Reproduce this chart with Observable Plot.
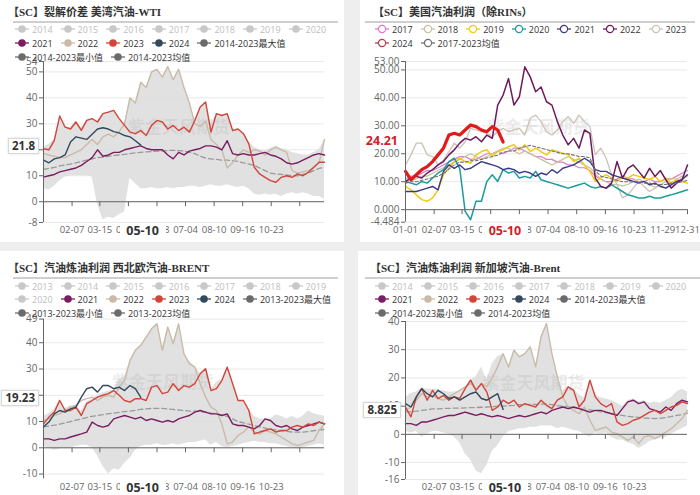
<!DOCTYPE html>
<html><head><meta charset="utf-8">
<script src="https://cdn.jsdelivr.net/npm/d3@7"></script>
<script src="https://cdn.jsdelivr.net/npm/@observablehq/plot@0.6"></script>
<style>
body{margin:0;background:#fff;}
#root{position:relative;width:700px;height:495px;background:#eeeeee;overflow:hidden;font-family:"Open Sans","Noto Sans CJK SC",sans-serif;}
.panel{position:absolute;background:#fff;}
.title{position:absolute;font-family:"Liberation Serif","Noto Sans CJK SC",serif;font-weight:bold;font-size:11px;color:#333;white-space:nowrap;line-height:14px;}
.sep{position:absolute;height:1.5px;background:#cfcfcf;}
.leg{position:absolute;display:flex;align-items:center;font-size:9px;white-space:nowrap;height:12px;}
.item{display:flex;align-items:center;margin-right:8px;min-width:37px;}
.item svg{margin-right:3px;flex:none;}
.plot{position:absolute;}
.vbox{position:absolute;font-weight:bold;font-size:11.5px;color:#333;background:#fff;padding:0 3px;line-height:14px;white-space:nowrap;}
.dbox{position:absolute;font-weight:bold;font-size:12.5px;color:#333;background:#fff;padding:0 5px;line-height:14px;white-space:nowrap;}
</style></head>
<body><div id="root"></div>
<script>
// ---------- data (weekly readings, week 0 = 01-01) ----------
const p1_2021=[9.5,10,10.5,11.5,12,12.5,13,14,15.5,17,20,17.5,18,19,19,20,20.5,21,21.5,20.5,20,20,20,18,16.5,19,18,19.5,20,20.5,21.5,21.5,21,20,23.5,18.5,18,18.5,18,18,18.5,19,18,17.5,16.5,15,14.5,15,16,17,18,18.5,18];
const p1_2022=[18.5,18,17.5,17,17,18,19,20,22,24,22,25,26,25,27,30,40,38,46,44,50,51,48,52,47,51,44,38,30,29,31,24,22,20,13,15,18,20,19,20,19.5,18,20,21,20,19,12,11,11.5,12,13,15,24];
const p1_2023=[20.4,20,23.6,33,28.7,28,30.7,27.5,31.3,32,30.7,33.9,34.5,35.2,32,29.4,26.8,26.2,27.4,25.5,29.4,31.3,30.7,28,29.4,27.4,28.7,26.8,31.3,36.5,38.4,26.8,33.9,33.2,33.9,27.4,28,26.2,22.3,13.3,10.7,9.4,8.1,7.5,9.4,10,9.4,10.7,10,11.3,13.3,15.2,15.2];
const p1_2024=[16,15,16.5,17,18,23,25,24.5,24,26,28,28.5,28,27,26.5,25.5,25,23.5,21.8];
const p1_max=[21,22,24,33,29,28.5,31,28.5,31.5,32,31,34,34.5,35.2,32,30,40,38,46,44,50,51,48,52,47,51,44,38,31.5,36.5,38.4,30,34,33.2,34,28,28,26.5,23,21,20,19.5,20.5,21.5,20.5,20,19,18.5,18,18,19,20,24];
const p1_min=[5,4.5,6,8,9.5,10,10,10,10,9.5,-1,-7,-6,-6.5,-5,-4,9,7,5,5,5.5,5,5,5.5,5,5.5,5.5,6,6,5.5,6,6.5,6,6,6.5,6,5.5,6,5,3,2.5,3,2.5,3,2,3,3.5,3,3.5,3,2,2,1];
const p1_avg=[12.5,12.8,13.2,13.8,14.2,14.5,15,15.5,16,16.5,17,17.2,17.5,17.8,18,18.2,18.5,18.8,19,19.2,19.3,19.5,19.5,19.7,19.8,19.7,19.5,19,18.5,17.5,16.8,16.5,16.3,16,16,15.8,15.5,15,14.5,14,13,12,11,10.7,10.5,10.3,10,10,10.5,11,12,12.8,13.3];

const p2_2017=[11,12,12,13,14,14,15,16,17,18,19,19,18,18,19,20,20,21,20,21,22,22,21,20,19,19,18,18,17,17,16,16,15,15,14,12,11,10,10,11,12,11,11,10,10,11,10,10,11,11,12,13,14];
const p2_2018=[10,10.5,11,12,12,13,14,15,16,17,18,19,20,19,18,19,20,21,22,22,21,20,21,20,19,18,17,16,17,18,19,18,17,16,15,13,11,10,9,9,8.5,9,10,11,10,9,8,9,10,11,11,12,12];
const p2_2019=[8.3,7.1,5.3,3.6,3,4.2,7.1,12.5,14.8,17.2,18.4,17.2,16.6,19.6,20.8,21.4,19,20.8,21.4,22.6,23.2,21.4,23.2,20.8,22,20.8,19.6,21.4,20.8,20.2,19.6,17.2,18.4,16,13.7,10.1,11.3,12.5,11.3,10.1,11.9,11.3,12.5,11.9,11.3,10.7,11.9,10.1,11.3,9.5,10.7,10.1,9.5];
const p2_2020=[10.1,9.5,8.9,10.1,9.5,11.3,13.1,14.3,17.2,18.4,14.8,-0.6,-3.6,3,3,10.1,12.5,10.1,14.3,13.1,13.7,11.3,11.9,11.3,13.7,10.7,10.1,9.5,8.9,8.3,7.7,8.3,8.9,9.5,8.3,7.7,8.3,7.7,8.9,7.7,6.5,5.3,4.8,4.2,4.2,4.8,4.2,4.2,4.8,5.3,5.9,6.5,7.1];
const p2_2021=[6.5,6.5,6.5,7.1,7.7,8.3,7.1,13.7,16,14.8,16,14.3,14.8,16,17.2,16.6,16,15.4,14.3,14.8,14.3,13.1,13.7,13.1,11.9,13.1,12.5,14.3,13.1,14.8,15.4,16,17.2,18.4,17.2,14.3,13.7,13.7,12.5,11.9,11.3,10.7,10.1,9.5,10.1,8.9,9.5,8.3,7.7,8.9,10.1,10.7,12.5];
const p2_2022=[10.1,11.3,11.9,11.3,13.1,14.3,16,17.2,19.6,21.4,23.8,25.5,24.9,26.1,24.3,26.7,25.5,37.4,41,46.9,37.4,40.4,51.1,47.5,42.2,43.9,38.6,37.4,31.5,26.7,23.2,25.5,22,28.5,27.3,11.3,8.3,7.7,9.5,17.2,11.3,14.8,16,13.7,11.3,14.8,11.9,14,10.7,7.7,9.5,10.7,16];
const p2_2023=[16,19.6,23.8,23.8,19.6,19,16,17.8,20.8,23.8,22,24.3,29.1,28.5,27.9,27.3,26.1,27.9,29.1,27.9,28.5,29.1,26.7,32.7,33.8,31.5,27.9,26.7,28.5,31.5,33.3,30.9,33.8,31.5,29.7,19.6,22,18.4,12.5,8.9,4.2,5.3,7.7,10.1,8.3,6.5,7.7,8.9,7.7,9.5,10.1,11.3,12.5];
const p2_2024=[13.7,10.7,12.5,14.3,15.4,17.2,19.6,22,26.7,27.3,26.7,28.5,30.3,29.7,28.5,27.9,29.7,28.5,24.21];
const p2_avg=[9.5,10,10,10.5,11,11.5,12,13,14.5,16,17,17,17.5,17.5,18,18.5,19,19.5,20.5,21,21,22,22.5,23,22.5,22,21.5,21,20.5,20,20,19.5,19,19,18.5,14,12,11.5,11,10.5,10,10,10,10,9.5,9.5,9,9,9,9.5,9.5,10,10.5];

const p3_2021=[3.4,3.4,2.8,3.4,3.4,4.1,4.7,5.3,6,9.8,8.5,7.9,8.5,11,11.7,12.3,11.7,11,11.7,10.4,11,10.4,9.8,10.4,9.8,11,11.7,12.3,13.6,14.2,13.6,12.9,12.9,12.3,12.9,9.1,8.5,8.5,7.9,7.2,8.5,11,10.4,8.5,7.9,8.5,7.2,6.6,7.9,8.5,9.1,9.8,9.1];
const p3_2022=[10.4,11,12.3,12.9,14.2,15.5,16.1,18,18.7,19.3,18,19.3,20,19.3,23.1,25.6,33.2,37.1,39,42.1,45.3,47.2,37.1,46,39.6,47.2,35.8,32,30.7,24.4,19.3,15.5,14.2,9.1,1.5,2.2,4.7,6,7.9,6,5.3,6.6,6,5.3,4.1,2.8,1.5,0.9,1.5,2.2,2.8,6.6,9.1];
const p3_2023=[9.1,11.7,13.6,18,14.2,14.2,15.5,12.3,16.8,18,19.3,20,20.6,21.8,20,18,17.4,18.7,18.7,18,23.1,23.7,20.6,21.2,24.4,21.8,23.7,23.1,24.4,28.2,30.1,21.8,22.5,25.6,30.7,24.4,18,18,14.2,5.3,6,6.6,7.2,6,6.6,6.6,7.9,8.5,7.9,9.1,8.5,9.8,9.1];
const p3_2024=[7.9,9.8,12.9,14.2,13.6,14.8,15.5,19.3,22.5,23.1,21.2,23.7,23.7,22.5,23.1,21.8,23.7,22.5,19.23];
const p3_max=[12,13,14.5,18.5,15,16,16,14,17.5,18.5,20,21,21.5,22,26,27,33.2,37.1,39,42.1,45.3,47.2,38,46,40,47.2,36,33,31,28.5,30.5,22,25,26,31,24.5,18,18,15,12,11,11,11,12.5,12,11,12,11,12,14,13,12.5,12];
const p3_min=[0.5,0,-1,-0.5,0,0,0.5,1,1,0,-3,-7,-10,-8,-8.5,-6,-4,-1,0.5,1,1,1.5,1,1,1.5,1,1.5,2,2,2.5,3,1,2,0.5,0,0.5,1,1.5,2,2.5,2,2,1.5,1.5,1,0.5,0,-0.5,0,0.5,1,1.5,1];
const p3_avg=[8,8.3,8.6,9,9.5,10,10.5,11,11.5,12,12.3,12.6,13,13.2,13.5,13.8,14,14.3,14.6,14.8,15,15,15,14.8,14.6,14.4,14.2,14,14,13.8,13.5,13.2,13,12.5,12,11,10,9.5,9,8.5,8,7.5,7,6.8,6.5,6.3,6,6,6,6.2,6.5,6.8,7];

const p4_2021=[3.8,3.8,3.2,4.4,4.4,5,5.6,6.2,6.7,6.7,7.3,7.9,7.3,6.7,7.3,6.7,6.2,6.7,6.2,5.6,6.2,6.7,6.2,6.7,7.3,7.9,7.3,8.5,9.1,9.7,9.1,9.7,9.1,8.5,7.9,8.5,8.5,7.9,7.3,6.7,9.1,11.5,12.1,10.9,11.5,9.1,8.5,7.9,9.7,8.5,10.9,12.1,11.5];
const p4_2022=[8.5,9.7,12.1,14.4,13.3,13.8,12.7,12.1,13.3,14.4,15.6,16.8,18,16,18,17,20,24,28.6,23.9,29.8,27.5,28.6,31,23.9,34.6,39.3,28.6,20.4,13.3,9.7,8.5,7.3,9.7,5,1.4,2,2.6,0.8,0.2,-0.9,-2.1,-0.9,-3.3,-0.9,-0.4,-1.5,-0.4,0.8,2,3.8,5.6,8.5];
const p4_2023=[9.7,6.2,13.3,16.2,12.1,15.6,12.7,13.8,12.1,13.3,12.7,16.2,19.2,15.6,18,15,8.5,9.7,12.1,10.9,12.1,9.7,10.9,10.3,9.7,12.1,10.3,9.1,12.1,13.3,16.8,15.6,9.7,12.1,19.2,13.3,10.9,9.7,10.9,4.4,3.2,3.8,5,5.6,6.7,7.9,8.5,7.3,8.5,9.7,10.3,11.5,10.9];
const p4_2024=[10.9,9.7,13.3,16.2,14.4,13.3,15.6,14.4,12.7,13.3,12.1,13.3,14.4,15,12.7,12.1,13.3,14.4,8.825];
const p4_max=[13,14.5,15,16.5,16,16,16,15.5,15,15,15.5,16.5,19.2,20.4,23.9,19.2,25.1,27.5,28.6,24,29.8,27.5,28.6,31,24,34.6,39.3,28.6,20.4,15,17,16,14,13,19.2,14,13,12.5,12,11,10,12,12.5,11.5,12,11,11.5,11,12,13,15,16,15];
const p4_min=[1,0.5,1,-1,0,1,1,0.5,0,-1,-3,-7,-9,-13,-14,-11,-6,-4,-1,1,1.5,2,2,2.5,2.5,3,3,3,2,2.5,2,1.5,1,0,-1,0.5,0,0.5,-1,-2,-2,-3,-3.5,-5,-4,-2.5,-2,-1.5,-1,0,1,2,3];
const p4_avg=[8,8,8.2,8.5,8.7,9,9,9.2,9.2,9.3,9.3,9.4,9.5,9.5,9.6,9.7,9.8,10,10,10.2,10.3,10.5,10.5,10.6,10.6,10.7,10.8,10.5,10.2,10,9.8,9.5,9.2,9,8.7,8.4,8,7.7,7.4,7,6.7,6.4,6.2,6,5.8,5.7,5.6,5.7,6,6.3,6.7,7,7.5];

// tick labels / categories
const xTickLabels=["01-01","02-07","03-15","04-21","05-28","07-04","08-10","09-16","10-23","11-29","12-31"];
const focusDate="05-10";
const y1Ticks=[-8,0,10,20,30,40,50,54];
const y2Ticks=[-4.484,0,10,20,30,40,50,53];
const y2TickText=["-4.484","0.000","10.00","20.00","30.00","40.00","50.00","53.00"];
const y3Ticks=[-10,0,10,20,30,40,49];
const y4Ticks=[-16,-10,0,10,20,30,40];
const titles=["【SC】裂解价差 美湾汽油-WTI","【SC】美国汽油利润（除RINs）","【SC】汽油炼油利润 西北欧汽油-BRENT","【SC】汽油炼油利润 新加坡汽油-Brent"];
const years14=["2014","2015","2016","2017","2018","2019","2020"];
const years13=["2013","2014","2015","2016","2017","2018","2019"];
const active=["2021","2022","2023","2024"];
const stats14=["2014-2023最大值","2014-2023最小值","2014-2023均值"];
const stats13=["2013-2023最大值","2013-2023最小值","2013-2023均值"];
const years2=["2017","2018","2019","2020","2021","2022","2023"];
const avg2Label="2017-2023均值";
const watermark="紫金天风期货";

// ---------- styles ----------
const C={y2021:"#7a1d62",y2022:"#c9bba8",y2023:"#d2453a",y2024:"#34495e",stat:"#6b6b6b",off:"#c8c8c8",band:"#dcdcdc",avg:"#9a9a9a"};
const C2={"2017":"#e07ad0","2018":"#c6c39c","2019":"#f0cc10","2020":"#1e9c9c","2021":"#3c3a8a","2022":"#6e1b5e","2023":"#cbc3b8","2024":"#e31a1a",avg:"#707070"};
const C2leg={...C2,"2024":"#b04050"};

// ---------- helpers ----------
const root=document.getElementById("root");
const base=Date.UTC(2023,0,1), DAY=864e5;
const parseMD=s=>new Date(Date.UTC(2023,+s.slice(0,2)-1,+s.slice(3)));
const weekDate=i=>new Date(base+i*7*DAY);
const ser=vals=>vals.map((v,i)=>({date:weekDate(i),v}));
const bandSer=(lo,hi)=>lo.map((l,i)=>({date:weekDate(i),lo:l,hi:hi[i]}));
function el(cls,css,html){const d=document.createElement("div");d.className=cls;Object.assign(d.style,css);if(html!=null)d.innerHTML=html;root.appendChild(d);return d;}
function marker(color,hollow){
  return `<svg width="14" height="10"><line x1="0" x2="14" y1="5" y2="5" stroke="${color}" stroke-width="1.3"/>`+
   (hollow?`<circle cx="7" cy="5" r="3.6" fill="#fff" stroke="${color}" stroke-width="1.2"/>`:`<circle cx="7" cy="5" r="3.8" fill="${color}"/>`)+`</svg>`;
}
function legendRow(items,x,y){
  const row=el("leg",{left:x+"px",top:(y-6)+"px"});
  row.innerHTML=items.map(it=>`<div class="item">${marker(it.color,it.hollow)}<span style="color:${it.text||"#333"}">${it.label}</span></div>`).join("");
}

function panel(cfg){
  const xdom=[new Date(base),new Date(base+364*DAY)];
  const labelDates=cfg.xlabels.map(parseMD);
  const tickDates=cfg.xticks.map(parseMD);
  const fmt=cfg.ytext?(d=>cfg.ytext[cfg.yticks.indexOf(d)]):(d=>String(d));
  const marks=[
    Plot.ruleY(cfg.yticks,{stroke:"#e9e9e9"}),
  ];
  if(cfg.band) marks.push(Plot.areaY(bandSer(cfg.band[0],cfg.band[1]),{x:"date",y1:"lo",y2:"hi",fill:C.band,fillOpacity:0.85}));
  marks.push(Plot.text([watermark],{frameAnchor:"middle",dx:cfg.wm[0],dy:cfg.wm[1],fontSize:17,fill:"#b0b0b0",fillOpacity:0.25,fontWeight:"bold"}));
  for(const l of cfg.lines){
    marks.push(Plot.lineY(ser(l.v),{x:"date",y:"v",stroke:l.c,strokeWidth:l.w||1.4,strokeDasharray:l.dash||null,strokeLinejoin:"round"}));
  }
  marks.push(
    Plot.ruleY([0],{stroke:"#666",strokeWidth:1}),
    Plot.ruleX(tickDates,{y1:0,y2:-cfg.tickLen,stroke:"#666"}),
    Plot.ruleX([xdom[0]],{stroke:"#666"}),
    Plot.axisY({ticks:cfg.yticks,tickFormat:fmt,tickSize:4,tickPadding:2,color:"#666",fontSize:10,label:null}),
    Plot.axisX({ticks:labelDates,tickFormat:d3.utcFormat("%m-%d"),tickSize:0,tickPadding:4,color:"#666",fontSize:9.5,label:null})
  );
  const p=Plot.plot({
    width:cfg.w,height:cfg.h,marginLeft:cfg.ml,marginRight:cfg.mr,marginTop:cfg.mt,marginBottom:cfg.mb,
    x:{type:"utc",domain:xdom,axis:null,label:null},
    y:{domain:cfg.ydom,axis:null,label:null},
    style:{fontFamily:"'Open Sans','Noto Sans CJK SC',sans-serif",background:"transparent",overflow:"visible"},
    marks
  });
  p.classList.add("plot");
  p.style.left=cfg.x+"px";p.style.top=cfg.y+"px";
  root.appendChild(p);
  const xs=p.scale("x"),ys=p.scale("y");
  // value pointer label
  const vy=cfg.y+ys.apply(cfg.value);
  const vb=el("vbox",{top:(vy-7)+"px",right:(700-(cfg.x+cfg.ml-4))+"px"},cfg.valueText);
  if(cfg.red){vb.style.color="#d4202a";vb.style.fontSize="12.5px";}
  else{vb.style.border="1px solid #d8d8d8";vb.style.boxShadow="0 0 2px rgba(0,0,0,0.15)";}
  // date pointer label
  const dx=cfg.x+xs.apply(parseMD(focusDate));
  const db=el("dbox",{top:(cfg.y+cfg.h-cfg.mb+cfg.dboff)+"px",left:(dx-23)+"px",width:"36px",textAlign:"center"},focusDate);
  if(cfg.red) db.style.color="#d4202a";
}

// ---------- panels background ----------
el("panel",{left:"0px",top:"0px",width:"344px",height:"242px"});
el("panel",{left:"360px",top:"0px",width:"340px",height:"242px"});
el("panel",{left:"0px",top:"251px",width:"344px",height:"244px"});
el("panel",{left:"358px",top:"251px",width:"342px",height:"244px"});

// titles + separators
el("title",{left:"8px",top:"5px"},titles[0]);
el("sep",{left:"13px",top:"21px",width:"325px"});
el("title",{left:"373px",top:"5px"},titles[1]);
el("sep",{left:"365px",top:"21px",width:"330px"});
el("title",{left:"8px",top:"261px"},titles[2]);
el("sep",{left:"13px",top:"277px",width:"325px"});
el("title",{left:"370px",top:"261px"},titles[3]);
el("sep",{left:"365px",top:"277px",width:"335px"});

// ---------- panel 1 ----------
panel({x:0,y:55,w:340,h:185,ml:43,mr:16,mt:6,mb:18,ydom:[-8,54],yticks:y1Ticks,tickLen:1.9,dboff:2,
  xlabels:xTickLabels.slice(1,9),xticks:xTickLabels.slice(1,10),wm:[-5,-14],
  band:[p1_min,p1_max],
  lines:[{v:p1_avg,c:C.avg,dash:"5,3",w:1.3},{v:p1_2022,c:C.y2022},{v:p1_2021,c:C.y2021},{v:p1_2023,c:C.y2023},{v:p1_2024,c:C.y2024}],
  value:p1_2024[p1_2024.length-1],valueText:String(p1_2024[p1_2024.length-1])});
legendRow(years14.map(l=>({label:l,color:C.off,text:"#bdbdbd"})),15,29);
legendRow([...active.map(l=>({label:l,color:C["y"+l]})),{label:stats14[0],color:C.stat}],15,43);
legendRow([{label:stats14[1],color:C.stat},{label:stats14[2],color:C.stat}],15,57);

// ---------- panel 2 ----------
panel({x:352,y:55,w:348,h:185,ml:53,mr:13,mt:6,mb:18.3,ydom:[-4.484,53],yticks:y2Ticks,ytext:y2TickText,tickLen:1.8,dboff:2,
  xlabels:xTickLabels,xticks:xTickLabels,wm:[-8,-14],red:true,
  lines:[{v:p2_2017,c:C2["2017"],w:1.2},{v:p2_2018,c:C2["2018"],w:1.2},{v:p2_2023,c:C2["2023"],w:1.3},{v:p2_2019,c:C2["2019"],w:1.5},
    {v:p2_2020,c:C2["2020"],w:1.5},{v:p2_2021,c:C2["2021"],w:1.4},{v:p2_2022,c:C2["2022"],w:1.5},{v:p2_avg,c:C2.avg,dash:"3,2",w:1.1},{v:p2_2024,c:C2["2024"],w:3.2}],
  value:p2_2024[p2_2024.length-1],valueText:String(p2_2024[p2_2024.length-1])});
legendRow(years2.map(l=>({label:l,color:C2leg[l],hollow:true})),375,29);
legendRow([{label:"2024",color:C2leg["2024"],hollow:true},{label:avg2Label,color:C2.avg,hollow:true}],375,43);

// ---------- panel 3 ----------
panel({x:0,y:300,w:340,h:195,ml:43,mr:16,mt:18.6,mb:16.7,ydom:[-11.8,49],yticks:y3Ticks,tickLen:1.9,dboff:2.5,
  xlabels:xTickLabels.slice(1,9),xticks:xTickLabels.slice(1,10),wm:[-21,-16],
  band:[p3_min,p3_max],
  lines:[{v:p3_avg,c:C.avg,dash:"5,3",w:1.3},{v:p3_2022,c:C.y2022},{v:p3_2021,c:C.y2021},{v:p3_2023,c:C.y2023},{v:p3_2024,c:C.y2024}],
  value:p3_2024[p3_2024.length-1],valueText:String(p3_2024[p3_2024.length-1])});
legendRow(years13.map(l=>({label:l,color:C.off,text:"#bdbdbd"})),15,286);
legendRow([{label:"2020",color:C.off,text:"#bdbdbd"},...active.map(l=>({label:l,color:C["y"+l]})),{label:stats13[0],color:C.stat}],15,299);
legendRow([{label:stats13[1],color:C.stat},{label:stats13[2],color:C.stat}],15,313);

// ---------- panel 4 ----------
panel({x:352,y:300,w:348,h:195,ml:53,mr:13,mt:21,mb:16,ydom:[-16,40],yticks:y4Ticks,tickLen:1.8,dboff:1.5,
  xlabels:xTickLabels.slice(1,9),xticks:xTickLabels.slice(1,10),wm:[-13,-17],
  band:[p4_min,p4_max],
  lines:[{v:p4_avg,c:C.avg,dash:"5,3",w:1.3},{v:p4_2022,c:C.y2022},{v:p4_2021,c:C.y2021},{v:p4_2023,c:C.y2023},{v:p4_2024,c:C.y2024}],
  value:p4_2024[p4_2024.length-1],valueText:String(p4_2024[p4_2024.length-1])});
legendRow(years14.map(l=>({label:l,color:C.off,text:"#bdbdbd"})),375,286);
legendRow([...active.map(l=>({label:l,color:C["y"+l]})),{label:stats14[0],color:C.stat}],375,299);
legendRow([{label:stats14[1],color:C.stat},{label:stats14[2],color:C.stat}],375,313);
</script></body></html>
